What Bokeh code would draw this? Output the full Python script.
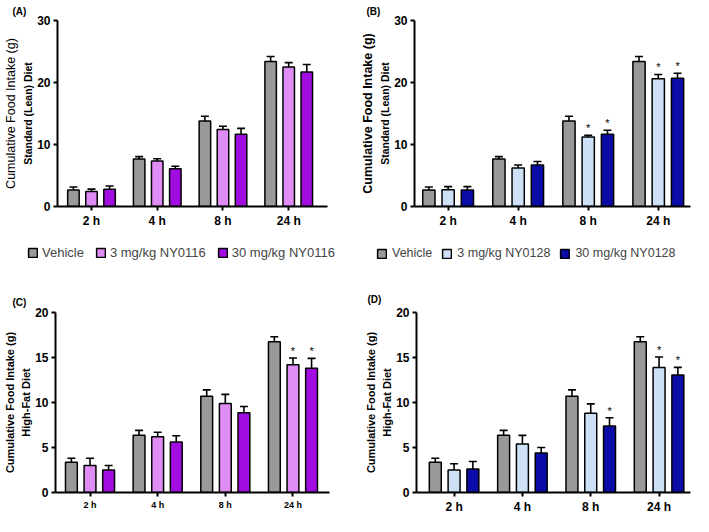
from bokeh.plotting import figure
from bokeh.models import (ColumnDataSource, Whisker, TeeHead, Title, Legend, LegendItem,
                          FixedTicker, Range1d)
from bokeh.layouts import column, row
from bokeh.embed import file_html
from bokeh.resources import INLINE

# ---------------- data ----------------
times = ["2 h", "4 h", "8 h", "24 h"]

lean_vehicle = [2.65, 7.65, 13.8, 23.4]
lean_vehicle_err = [0.5, 0.4, 0.75, 0.8]

a_low = [2.4, 7.35, 12.4, 22.5]
a_low_err = [0.4, 0.35, 0.55, 0.7]
a_high = [2.8, 6.1, 11.65, 21.7]
a_high_err = [0.5, 0.4, 0.95, 1.2]
a_low_sig = [0, 0, 0, 0]
a_high_sig = [0, 0, 0, 0]

b_low = [2.7, 6.2, 11.2, 20.6]
b_low_err = [0.5, 0.5, 0.3, 0.7]
b_high = [2.65, 6.7, 11.65, 20.7]
b_high_err = [0.55, 0.55, 0.65, 0.8]
b_low_sig = [0, 0, 1, 1]
b_high_sig = [0, 0, 1, 1]

hfd_vehicle = [3.35, 6.35, 10.7, 16.75]
hfd_vehicle_err = [0.45, 0.55, 0.7, 0.55]

c_low = [3.0, 6.2, 9.9, 14.2]
c_low_err = [0.8, 0.5, 1.0, 0.75]
c_high = [2.5, 5.6, 8.85, 13.8]
c_high_err = [0.5, 0.7, 0.7, 1.1]
c_low_sig = [0, 0, 0, 1]
c_high_sig = [0, 0, 0, 1]

d_low = [2.5, 5.4, 8.8, 13.9]
d_low_err = [0.7, 0.95, 1.05, 1.15]
d_high = [2.6, 4.4, 7.4, 13.05]
d_high_err = [0.85, 0.6, 0.9, 0.85]
d_low_sig = [0, 0, 0, 1]
d_high_sig = [0, 0, 1, 1]

names_116 = ["Vehicle", "3 mg/kg NY0116", "30 mg/kg NY0116"]
names_128 = ["Vehicle", "3 mg/kg NY0128", "30 mg/kg NY0128"]
colors_116 = ["#999999", "#df8cf5", "#a10ce0"]
colors_128 = ["#999999", "#cde0f6", "#0b0ba8"]

FONT = "Liberation Sans"
OFFSET = 0.275
BAR_W = 0.175


def make_panel(tag, series, colors, ylab1, ylab2, y_end, y_ticks, geom, style):
    p = figure(width=geom["w"], height=geom["h"], output_backend="svg", toolbar_location=None,
               x_range=Range1d(geom["x0"], geom["x1"]), y_range=Range1d(0, y_end),
               min_border_left=geom["l"], min_border_right=geom["r"],
               min_border_top=geom["t"], min_border_bottom=geom["b"])
    p.xgrid.visible = False
    p.ygrid.visible = False
    p.outline_line_color = None
    p.background_fill_color = "white"

    for k, (vals, errs, sig) in enumerate(series):
        xs = [i + (k - 1) * OFFSET for i in range(len(vals))]
        tops = [v + e for v, e in zip(vals, errs)]
        src = ColumnDataSource(dict(x=xs, y=vals, top=tops))
        p.vbar(x="x", top="y", bottom=0, width=BAR_W, source=src,
               fill_color=colors[k], line_color="black", line_width=1.5)
        w = Whisker(source=src, base="x", upper="top", lower="y", dimension="height",
                    line_width=1.6, line_color="black", level="overlay",
                    upper_head=TeeHead(size=8, line_width=1.6, line_color="black"),
                    lower_head=None)
        p.add_layout(w)
        sx = [x for x, s in zip(xs, sig) if s]
        sy = [t for t, s in zip(tops, sig) if s]
        if sx:
            p.text(x=sx, y=sy, text=["*"] * len(sx), text_align="center",
                   text_baseline="bottom", y_offset=-1, text_font_size="11px",
                   text_color="black", text_font={"value": FONT})

    p.xaxis.ticker = FixedTicker(ticks=[0, 1, 2, 3])
    p.xaxis.major_label_overrides = {i: t for i, t in enumerate(times)}
    p.yaxis.ticker = FixedTicker(ticks=y_ticks)
    for ax in (p.xaxis[0], p.yaxis[0]):
        ax.axis_line_width = 2
        ax.axis_line_color = "black"
        ax.major_tick_line_width = 2
        ax.major_tick_in = 0
        ax.major_tick_out = 4
        ax.minor_tick_line_color = None
        ax.major_label_text_font = FONT
        ax.major_label_text_font_style = "bold"
        ax.major_label_text_color = "black"
        ax.major_label_standoff = 3
    p.xaxis.major_label_text_font_size = style["xt"]
    p.yaxis.major_label_text_font_size = style["yt"]

    p.add_layout(Title(text=ylab2, align="center", text_font=FONT, text_font_size=style["y2"],
                       text_font_style="bold", standoff=2, text_color="black"), "left")
    p.add_layout(Title(text=ylab1, align="center", text_font=FONT, text_font_size=style["y1"],
                       text_font_style=style["y1s"], standoff=2, text_color="black"), "left")
    p.add_layout(Title(text=tag, align="left", text_font=FONT, text_font_size="10px",
                       text_font_style="bold", offset=geom["toff"], standoff=geom["tstand"],
                       text_color="black"), "above")
    return p


def make_legend(names, colors, width, loc, fs, std, sp):
    q = figure(width=width, height=30, output_backend="svg", toolbar_location=None,
               x_range=Range1d(0, 1), y_range=Range1d(0, 1),
               x_axis_location=None, y_axis_location=None, min_border=0)
    q.xgrid.visible = False
    q.ygrid.visible = False
    q.outline_line_color = None
    items = []
    for n, c in zip(names, colors):
        # legend-only renderer (hidden), just supplies the swatch style
        r = q.vbar(x=0, top=0, width=0.1, fill_color=c, line_color="black",
                   line_width=1.5, visible=False)
        items.append(LegendItem(label=n, renderers=[r]))
    lg = Legend(items=items, orientation="horizontal", location=loc,
                label_text_font=FONT, label_text_font_size=fs,
                glyph_width=11, glyph_height=11, label_standoff=std,
                spacing=sp, padding=2, margin=0, border_line_color=None,
                background_fill_alpha=0, inactive_fill_alpha=0)
    q.add_layout(lg)
    return q


pA = make_panel("(A)",
                [(lean_vehicle, lean_vehicle_err, [0, 0, 0, 0]), (a_low, a_low_err, a_low_sig),
                 (a_high, a_high_err, a_high_sig)],
                colors_116, "Cumulative Food Intake (g)", "Standard (Lean) Diet",
                30, [0, 10, 20, 30],
                dict(w=348, h=230, x0=-0.517, x1=3.59, l=49, r=21, t=19, b=22, toff=-45, tstand=7),
                dict(xt="12px", yt="12px", y1="12.5px", y1s="normal", y2="10.5px"))

pB = make_panel("(B)",
                [(lean_vehicle, lean_vehicle_err, [0, 0, 0, 0]), (b_low, b_low_err, b_low_sig),
                 (b_high, b_high_err, b_high_sig)],
                colors_128, "Cumulative Food Intake (g)", "Standard (Lean) Diet",
                30, [0, 10, 20, 30],
                dict(w=345, h=230, x0=-0.48, x1=3.46, l=66, r=3, t=19, b=22, toff=-48, tstand=7),
                dict(xt="12px", yt="12px", y1="12.5px", y1s="bold", y2="10.5px"))

lA = make_legend(names_116, colors_116, 348, (27, 0), "13px", 4, 11)
lB = make_legend(names_128, colors_128, 345, (28, 0), "12.5px", 5, 9)

pC = make_panel("(C)",
                [(hfd_vehicle, hfd_vehicle_err, [0, 0, 0, 0]), (c_low, c_low_err, c_low_sig),
                 (c_high, c_high_err, c_high_sig)],
                colors_116, "Cumulative Food Intake (g)", "High-Fat Diet",
                20, [0, 5, 10, 15, 20],
                dict(w=348, h=256, x0=-0.51, x1=3.54, l=43, r=19, t=49, b=19, toff=-43, tstand=9),
                dict(xt="9px", yt="12px", y1="11px", y1s="bold", y2="11px"))

pD = make_panel("(D)",
                [(hfd_vehicle, hfd_vehicle_err, [0, 0, 0, 0]), (d_low, d_low_err, d_low_sig),
                 (d_high, d_high_err, d_high_sig)],
                colors_128, "Cumulative Food Intake (g)", "High-Fat Diet",
                20, [0, 5, 10, 15, 20],
                dict(w=345, h=256, x0=-0.55, x1=3.46, l=68, r=3, t=52, b=17, toff=-49, tstand=15),
                dict(xt="12px", yt="12px", y1="11px", y1s="bold", y2="11px"))

layout = column(row(pA, pB), row(lA, lB), row(pC, pD))
open("out.html", "w").write(file_html(layout, INLINE))
